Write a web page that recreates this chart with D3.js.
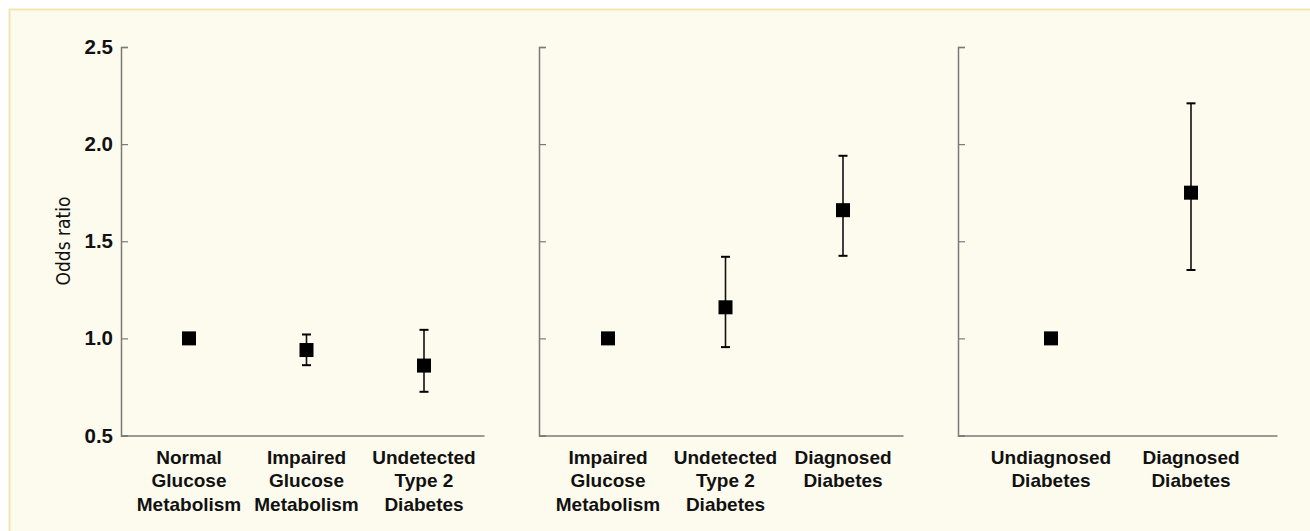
<!DOCTYPE html>
<html>
<head>
<meta charset="utf-8">
<script src="https://cdn.jsdelivr.net/npm/d3@7"></script>
<style>
  html, body { margin: 0; padding: 0; background: #ffffff; }
  svg { display: block; }
</style>
</head>
<body>
<svg id="chart" width="1310" height="531"></svg>
<script>
// ---- data ----
const panel1Categories = ["Normal\nGlucose\nMetabolism", "Impaired\nGlucose\nMetabolism", "Undetected\nType 2\nDiabetes"];
const panel1OR   = [1.0, 0.94, 0.86];
const panel1Low  = [null, 0.862, 0.725];
const panel1High = [null, 1.02, 1.044];

const panel2Categories = ["Impaired\nGlucose\nMetabolism", "Undetected\nType 2\nDiabetes", "Diagnosed\nDiabetes"];
const panel2OR   = [1.0, 1.16, 1.66];
const panel2Low  = [null, 0.955, 1.425];
const panel2High = [null, 1.42, 1.94];

const panel3Categories = ["Undiagnosed\nDiabetes", "Diagnosed\nDiabetes"];
const panel3OR   = [1.0, 1.75];
const panel3Low  = [null, 1.352];
const panel3High = [null, 2.21];

const yTicks = [0.5, 1.0, 1.5, 2.0, 2.5];
const yLabel = "Odds ratio";

// ---- layout ----
const svg = d3.select("#chart");
svg.append("rect").attr("x", 9.5).attr("y", 9.5).attr("width", 1310).attr("height", 531)
  .attr("fill", "#fdfbee").attr("stroke", "#f0e6b4").attr("stroke-width", 2);

const y = d3.scaleLinear().domain([0.5, 2.5]).range([435.5, 47]);

const panels = [
  { cats: panel1Categories, or: panel1OR, lo: panel1Low, hi: panel1High, x0: 121, x1: 484, p0: 68, p1: 303, labels: true },
  { cats: panel2Categories, or: panel2OR, lo: panel2Low, hi: panel2High, x0: 539, x1: 903, p0: 69, p1: 304, labels: false },
  { cats: panel3Categories, or: panel3OR, lo: panel3Low, hi: panel3High, x0: 958, x1: 1277, p0: 93, p1: 233, labels: false }
];

const labelFont = "'Liberation Sans', Arial, sans-serif";

panels.forEach(p => {
  const x = d3.scalePoint().domain(d3.range(p.cats.length)).range([p.x0 + p.p0, p.x0 + p.p1]);
  const g = svg.append("g");

  // y axis
  const yAxis = d3.axisRight(y).tickValues(yTicks).tickSize(7)
    .tickFormat(p.labels ? d3.format(".1f") : () => "");
  const ya = g.append("g").attr("transform", `translate(${p.x0},0)`).call(yAxis);
  ya.select(".domain").attr("stroke", "#7a7a7a").attr("stroke-width", 1.5);
  ya.selectAll(".tick line").attr("stroke", "#7a7a7a").attr("stroke-width", 1.2);
  ya.selectAll(".tick text")
    .attr("x", -8).attr("text-anchor", "end")
    .attr("font-family", labelFont).attr("font-weight", "bold").attr("font-size", 20.5)
    .attr("fill", "#111");

  // x axis line
  const xAxis = d3.axisBottom(d3.scaleLinear().domain([0, 1]).range([p.x0, p.x1])).ticks(0).tickSize(0).tickSizeOuter(0);
  const xa = g.append("g").attr("transform", `translate(0,${y(0.5)})`).call(xAxis);
  xa.select(".domain").attr("stroke", "#7a7a7a").attr("stroke-width", 1.5);
  xa.selectAll("text").remove();

  // category labels
  p.cats.forEach((c, i) => {
    const t = g.append("text")
      .attr("x", x(i)).attr("y", 463.5)
      .attr("text-anchor", "middle")
      .attr("font-family", labelFont).attr("font-weight", "bold").attr("font-size", 19)
      .attr("fill", "#111");
    c.split("\n").forEach((line, k) => {
      t.append("tspan").attr("x", x(i)).attr("dy", k === 0 ? 0 : 23.5).text(line);
    });
  });

  // error bars
  const idx = d3.range(p.cats.length).filter(i => p.lo[i] !== null);
  g.selectAll(".stem").data(idx).join("line")
    .attr("x1", i => x(i)).attr("x2", i => x(i))
    .attr("y1", i => y(p.hi[i])).attr("y2", i => y(p.lo[i]))
    .attr("stroke", "#111").attr("stroke-width", 1.6);
  ["hi", "lo"].forEach(k => {
    g.selectAll(".cap" + k).data(idx).join("line")
      .attr("x1", i => x(i) - 4.5).attr("x2", i => x(i) + 4.5)
      .attr("y1", i => y(p[k][i])).attr("y2", i => y(p[k][i]))
      .attr("stroke", "#000").attr("stroke-width", 2);
  });

  // markers
  g.selectAll(".pt").data(d3.range(p.cats.length)).join("rect")
    .attr("x", i => x(i) - 7).attr("y", i => y(p.or[i]) - 7)
    .attr("width", 14).attr("height", 14).attr("fill", "#000");
});

// y label
svg.append("text")
  .attr("transform", "translate(69.5,241) rotate(-90)")
  .attr("text-anchor", "middle")
  .attr("font-family", "'Liberation Sans Narrow', 'DejaVu Sans Condensed', 'Liberation Sans', sans-serif")
  .attr("font-size", 19).attr("fill", "#111")
  .text(yLabel);
</script>
</body>
</html>
